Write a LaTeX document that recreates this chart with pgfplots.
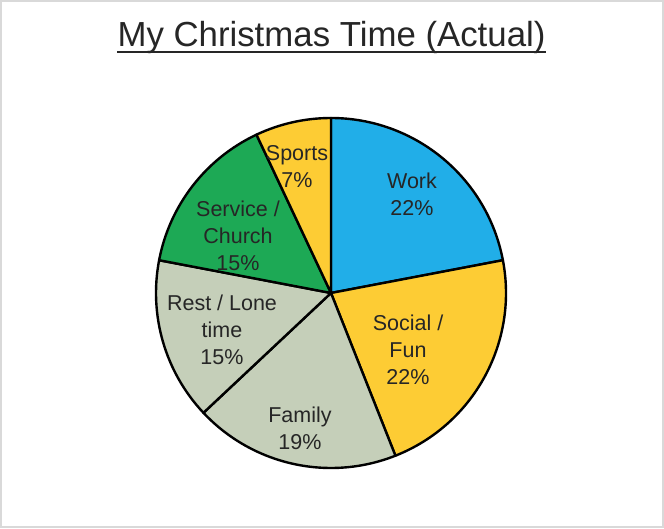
\documentclass[border=0pt]{standalone}
\usepackage{pgfplots}
\pgfplotsset{compat=1.18}
\usepackage{fontspec}
\setmainfont{Liberation Sans}
\definecolor{workblue}{HTML}{21AEE8}
\definecolor{funyellow}{HTML}{FDCC34}
\definecolor{restgray}{HTML}{C5CFB9}
\definecolor{churchgreen}{HTML}{1DA955}
\definecolor{txt}{HTML}{262626}
\definecolor{frame}{HTML}{D9D9D9}

\begin{document}
\begin{tikzpicture}
\begin{axis}[
  x=1pt, y=1pt,
  xmin=0, xmax=664, ymin=0, ymax=528,
  hide axis, clip=false,
]
% slices: percent / colour, clockwise from 12 o'clock
\xdef\cum{90}
\foreach \v/\c in {22/workblue, 22/funyellow, 19/restgray, 15/restgray, 15/churchgreen, 7/funyellow}{
  \pgfmathsetmacro\b{\cum-3.6*\v}
  \edef\temp{\noexpand\filldraw[fill=\c, draw=black, line width=2.4pt, line join=round]
    (axis cs:331,235) -- ++(\cum:175pt) arc[start angle=\cum, end angle=\b, radius=175pt] -- cycle;}
  \temp
  \xdef\cum{\b}
}

\begin{scope}[every node/.style={align=center, text=txt, font=\fontsize{21.5}{27}\selectfont}]
\node at (axis cs:412,334) {Work\\22\%};
\node at (axis cs:408,178) {Social /\\Fun\\22\%};
\node at (axis cs:300,100) {Family\\19\%};
\node at (axis cs:222,198) {Rest / Lone\\time\\15\%};
\node at (axis cs:238,292) {Service /\\Church\\15\%};
\node at (axis cs:297,361) {Sports\\7\%};
\end{scope}

\node[anchor=base, inner sep=0pt, text=txt, font=\fontsize{34.8}{40}\selectfont] (title)
  at (axis cs:331.5,481) {My Christmas Time (Actual)};
\draw[txt, line width=2pt] ([yshift=-5pt]title.base west) -- ([yshift=-5pt]title.base east);

\draw[frame, line width=2pt] (axis cs:1,1) rectangle (axis cs:663,527);
\end{axis}
\end{tikzpicture}
\end{document}
